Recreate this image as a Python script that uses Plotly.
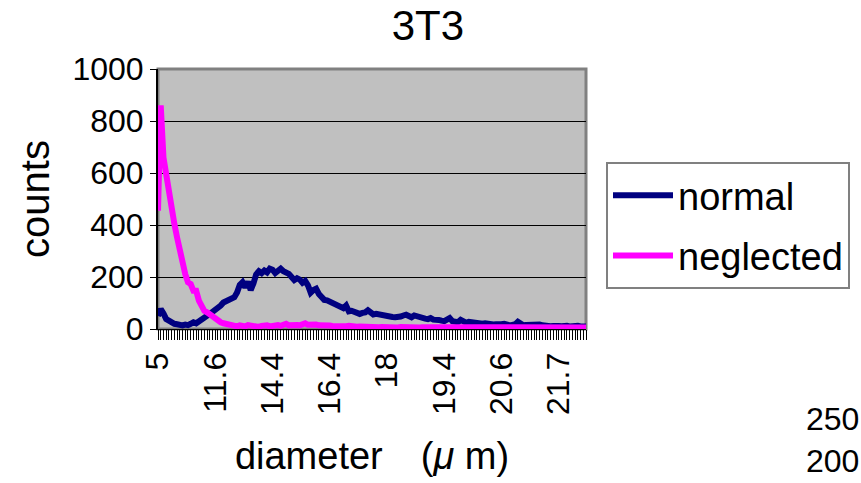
import plotly.graph_objects as go

title_text = "3T3"
series_names = ["normal", "neglected"]
tick_labels = ["5", "11.6", "14.4", "16.4", "18", "19.4", "20.6", "21.7"]
label_step = 21  # a label every 21 categories

normal = [50, 77, 60, 38, 32, 25, 20, 18, 15, 14,
          17, 15, 20, 26, 22, 28, 35, 42, 52, 58,
          66, 72, 80, 90, 102, 108, 112, 118, 122, 140,
          170, 180, 160, 182, 150, 175, 210, 222, 215, 225,
          218, 232, 228, 215, 225, 232, 222, 218, 212, 200,
          188, 195, 190, 178, 185, 168, 140, 150, 155, 135,
          118, 112, 110, 105, 98, 95, 88, 85, 80, 90,
          68, 70, 65, 60, 58, 62, 64, 72, 60, 56,
          58, 55, 58, 54, 50, 48, 46, 45, 44, 48,
          52, 55, 50, 45, 52, 48, 42, 44, 40, 38,
          42, 36, 38, 35, 32, 30, 36, 42, 30, 28,
          26, 35, 28, 24, 28, 26, 25, 24, 22, 20,
          22, 19, 18, 17, 18, 16, 18, 20, 16, 14,
          16, 18, 28, 18, 14, 15, 16, 14, 13, 15,
          17, 14, 12, 13, 11, 12, 14, 12, 11, 13,
          12, 10, 11, 16, 12, 10, 11, 10]

neglected = [455, 860, 660, 596, 519, 442, 404, 352, 301, 237,
             211, 180, 173, 147, 147, 109, 83, 70, 64, 55,
             47, 38, 32, 26, 22, 19, 15, 16, 12, 10,
             14, 12, 10, 15, 12, 14, 10, 8, 12, 16,
             14, 10, 12, 18, 15, 12, 16, 20, 14, 16,
             18, 15, 14, 18, 22, 16, 18, 20, 17, 14,
             15, 12, 14, 13, 12, 11, 13, 12, 10, 11,
             12, 10, 11, 9, 10, 9, 10, 9, 8, 9,
             8, 7, 8, 7, 6, 8, 7, 7, 6, 8,
             7, 6, 7, 8, 6, 7, 6, 7, 7, 6,
             7, 8, 6, 7, 6, 6, 7, 6, 7, 6,
             6, 7, 6, 6, 7, 6, 5, 6, 7, 6,
             6, 5, 6, 6, 7, 6, 5, 6, 6, 5,
             6, 6, 5, 6, 5, 6, 6, 5, 6, 5,
             6, 5, 5, 6, 5, 6, 5, 5, 6, 5,
             5, 6, 5, 5, 6, 5, 5, 6]

side_labels = ["250", "200"]

FONT = "Liberation Sans, Arial, sans-serif"

n_cat = max(len(normal), len(neglected))
tickvals = [i * label_step for i in range(len(tick_labels))]

fig = go.Figure()
# invisible carrier trace so the per-category tick axis (x2) is drawn
fig.add_trace(go.Scatter(x=list(range(len(normal))), y=normal, mode="lines",
                         xaxis="x2", yaxis="y", opacity=0, showlegend=False,
                         hoverinfo="skip", line=dict(width=0.1)))
fig.add_trace(go.Scatter(x=list(range(len(normal))), y=normal, mode="lines",
                         name=series_names[0], line=dict(color="#000080", width=6),
                         legendgroup="a"))
fig.add_trace(go.Scatter(x=list(range(len(neglected))), y=neglected, mode="lines",
                         name=series_names[1], line=dict(color="#FF00FF", width=6),
                         legendgroup="b"))

fig.update_layout(
    width=861, height=483,
    margin=dict(l=158, r=274, t=69, b=154),
    paper_bgcolor="white", plot_bgcolor="#C0C0C0",
    font=dict(family=FONT, color="black", size=30),
    title=dict(text=title_text, x=0.497, xref="container", xanchor="center",
               y=1 - 25 / 483, yref="container", yanchor="middle",
               font=dict(size=42, family=FONT)),
    showlegend=True,
    legend=dict(x=(606 - 158) / 429, xanchor="left", y=(329 - 162) / 260, yanchor="top",
                bordercolor="#808080", borderwidth=2, bgcolor="white",
                font=dict(size=38, family=FONT), tracegroupgap=8,
                itemwidth=60),
    xaxis2=dict(overlaying="x", anchor="y", side="bottom", range=[0, n_cat - 1],
                tickmode="linear", tick0=0, dtick=1, ticks="outside", ticklen=10,
                tickcolor="black", tickwidth=1, showticklabels=False,
                showgrid=False, zeroline=False, showline=False),
)

fig.layout.xaxis.update(
    range=[0, n_cat - 1], tickmode="array", tickvals=tickvals, ticktext=tick_labels,
    tickangle=-90, ticks="outside", ticklen=10, tickcolor="black", tickwidth=1,
    showline=True, linecolor="black", linewidth=1, showgrid=False, zeroline=False,
    tickfont=dict(size=32, family=FONT),
    title=dict(text="diameter\u3000(<i>\u03bc</i> m)", standoff=28, font=dict(size=38, family=FONT)),
)
fig.update_yaxes(
    range=[0, 1000], tickmode="linear", tick0=0, dtick=200,
    ticks="outside", ticklen=6, tickcolor="black",
    showline=True, linecolor="black", linewidth=2, mirror=False,
    showgrid=True, gridcolor="black", gridwidth=1, zeroline=False,
    tickfont=dict(size=32, family=FONT),
    title=dict(text="counts", standoff=10, font=dict(size=40, family=FONT)),
)

# plot-area frame (grey top/right border like the original)
fig.add_shape(type="rect", xref="x domain", yref="y domain", x0=0, x1=1, y0=0, y1=1,
              line=dict(color="#808080", width=3), layer="below")

for lbl, ypix in zip(side_labels, [419, 461]):
    fig.add_annotation(text=lbl, xref="paper", yref="paper",
                       x=(806 - 158) / 429, y=(329 - ypix) / 260,
                       xanchor="left", yanchor="middle", showarrow=False,
                       font=dict(size=32, family=FONT))

fig.write_html("out.html")
